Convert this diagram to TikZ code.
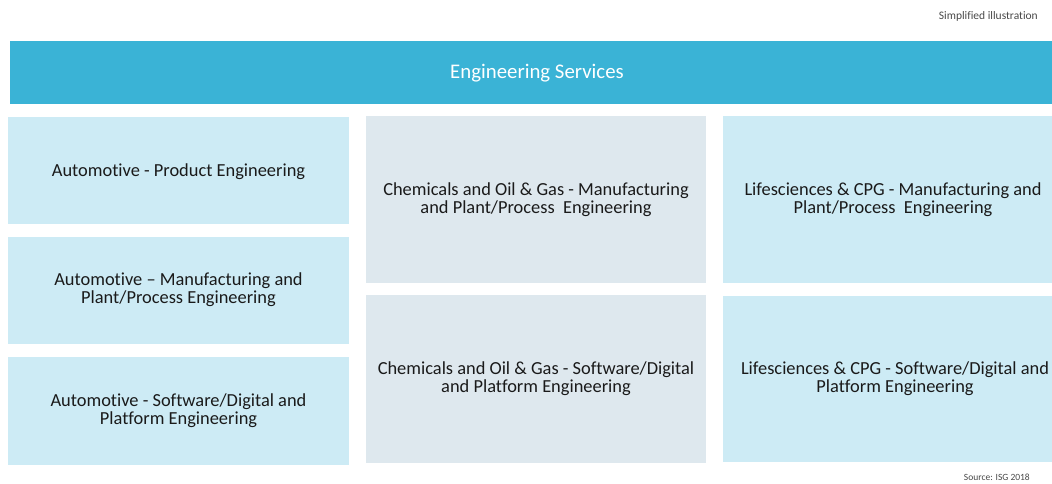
\documentclass[tikz,border=0pt]{standalone}
\usepackage{fontspec}
\setmainfont[Ligatures=NoCommon]{Carlito}
\definecolor{headblue}{HTML}{3AB3D6}
\definecolor{lightblue}{HTML}{CDEBF5}
\definecolor{greyblue}{HTML}{DEE8EE}
\definecolor{txt}{HTML}{1A1A1A}
\begin{document}
\begin{tikzpicture}[x=1pt,y=-1pt,
  tile/.style={inner sep=0pt, align=center, text=txt, font=\fontsize{18.4}{18}\selectfont},
  note/.style={inner sep=0pt, text=txt!80}]
\useasboundingbox (0,0) rectangle (1052,483);
% header band
\fill[headblue] (10,41) rectangle (1052,104);
\node[tile, text=white, font=\fontsize{20.8}{24}\selectfont] (head) at (537,73.5) {Engineering Services};
% left column
\fill[lightblue] (8,117) rectangle (349,224);
\fill[lightblue] (8,237) rectangle (349,344);
\fill[lightblue] (8,357) rectangle (349,465);
\node[tile] (a1) at (178.5,171.5) {Automotive - Product Engineering};
\node[tile] (a2) at (178.5,290) {Automotive -- Manufacturing and\\Plant/Process Engineering};
\node[tile] (a3) at (178.5,411) {Automotive - Software/Digital and\\Platform Engineering};
% middle column
\fill[greyblue] (366,116) rectangle (706,283);
\fill[greyblue] (366,295) rectangle (706,463);
\node[tile] (c1) at (536,199.5) {Chemicals and Oil \& Gas - Manufacturing\\and Plant/Process\ \ Engineering};
\node[tile] (c2) at (536,379) {Chemicals and Oil \& Gas - Software/Digital\\and Platform Engineering};
% right column
\fill[lightblue] (723,116) rectangle (1052,283);
\fill[lightblue] (723,296) rectangle (1052,462);
\node[tile] (l1) at (893,199.5) {Lifesciences \& CPG - Manufacturing and\\Plant/Process\ \ Engineering};
\node[tile] (l2) at (895,379) {Lifesciences \& CPG - Software/Digital and\\Platform Engineering};
% notes
\node[note, anchor=east, font=\fontsize{11.5}{13}\selectfont] (simp) at (1038,16) {Simplified illustration};
\node[note, anchor=east, font=\fontsize{9.5}{11}\selectfont] (src) at (1030,477) {Source: ISG 2018};
\end{tikzpicture}
\end{document}
